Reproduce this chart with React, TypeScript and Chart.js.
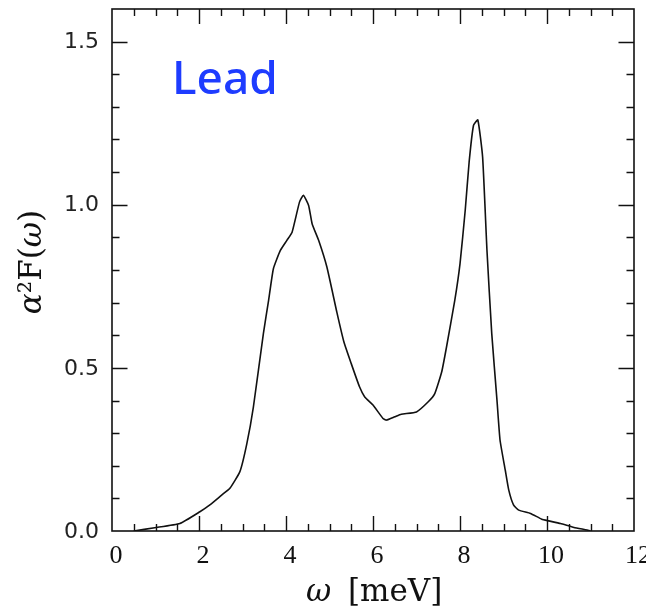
import React, { useEffect, useRef } from "react";
import { Chart, registerables } from "chart.js";

Chart.register(...registerables);

const omega = [0.5, 0.98, 1.56, 2.02, 2.25, 2.52, 2.71, 2.94, 3.1, 3.25, 3.48, 3.6, 3.71, 3.87, 4.02, 4.14, 4.31, 4.4, 4.52, 4.6, 4.75, 4.94, 5.17, 5.33, 5.5, 5.69, 5.81, 6.0, 6.23, 6.31, 6.5, 6.65, 7.0, 7.27, 7.42, 7.58, 7.69, 7.88, 8.0, 8.12, 8.21, 8.31, 8.41, 8.52, 8.62, 8.73, 8.85, 8.92, 9.04, 9.12, 9.23, 9.35, 9.62, 9.88, 10.04, 10.31, 10.62, 10.92, 11.0];
const a2F = [0, 0.01, 0.023, 0.059, 0.08, 0.11, 0.131, 0.182, 0.268, 0.38, 0.605, 0.707, 0.804, 0.86, 0.891, 0.916, 1.008, 1.029, 0.998, 0.942, 0.891, 0.809, 0.67, 0.58, 0.513, 0.442, 0.411, 0.386, 0.345, 0.34, 0.35, 0.358, 0.365, 0.396, 0.421, 0.488, 0.564, 0.707, 0.819, 0.983, 1.131, 1.243, 1.26, 1.146, 0.86, 0.605, 0.401, 0.279, 0.187, 0.126, 0.08, 0.064, 0.054, 0.036, 0.031, 0.023, 0.011, 0.003, 0];

const xMajorTicks = [0, 2, 4, 6, 8, 10, 12];
const xTickLabels = ["0", "2", "4", "6", "8", "10", "12"];
const yMajorTicks = [0, 0.5, 1.0, 1.5];
const yTickLabels = ["0.0", "0.5", "1.0", "1.5"];
const xRange = [0, 12];
const yRange = [0, 1.6];
const xMinorStep = 0.5;
const yMinorStep = 0.1;
const xTitleSymbol = "ω";
const xTitleUnit = "[meV]";
const yTitleParts = ["α", "²F(", "ω", ")"];
const annotationText = "Lead";

const framePlugin = {
  id: "framePlugin",
  afterDraw(chart: any) {
    const ctx = chart.ctx;
    const area = chart.chartArea;
    const xs = chart.scales.x;
    const ys = chart.scales.y;
    ctx.save();
    ctx.strokeStyle = "#111";
    ctx.lineWidth = 1.6;
    ctx.strokeRect(area.left, area.top, area.right - area.left, area.bottom - area.top);
    ctx.lineWidth = 1.4;
    const nx = Math.round((xRange[1] - xRange[0]) / xMinorStep);
    for (let i = 1; i < nx; i++) {
      const v = xRange[0] + i * xMinorStep;
      const major = Math.abs(v / 2 - Math.round(v / 2)) < 1e-6;
      const len = major ? 15 : 7;
      const px = Math.round(xs.getPixelForValue(v)) + 0.5;
      ctx.beginPath();
      ctx.moveTo(px, area.bottom);
      ctx.lineTo(px, area.bottom - len);
      ctx.moveTo(px, area.top);
      ctx.lineTo(px, area.top + len);
      ctx.stroke();
    }
    const ny = Math.round((yRange[1] - yRange[0]) / yMinorStep);
    for (let i = 1; i < ny; i++) {
      const v = yRange[0] + i * yMinorStep;
      const major = i % 5 === 0;
      const len = major ? 15.5 : 7.5;
      const py = Math.round(ys.getPixelForValue(v)) + 0.5;
      ctx.beginPath();
      ctx.moveTo(area.left, py);
      ctx.lineTo(area.left + len, py);
      ctx.moveTo(area.right, py);
      ctx.lineTo(area.right - len, py);
      ctx.stroke();
    }
    ctx.fillStyle = "#222";
    ctx.font = "22px 'DejaVu Sans'";
    ctx.textAlign = "right";
    ctx.textBaseline = "middle";
    yMajorTicks.forEach((v, i) => {
      ctx.fillText(yTickLabels[i], area.left - 13, ys.getPixelForValue(v) + 1);
    });
    ctx.fillStyle = "#111";
    ctx.font = "26px 'Liberation Serif'";
    ctx.textAlign = "center";
    ctx.textBaseline = "middle";
    xMajorTicks.forEach((v, i) => {
      ctx.fillText(xTickLabels[i], xs.getPixelForValue(v) + 4, area.bottom + 25);
    });
    // x title
    ctx.textBaseline = "alphabetic";
    ctx.textAlign = "left";
    ctx.font = "italic 31px 'DejaVu Serif'";
    ctx.fillText(xTitleSymbol, 306, area.bottom + 70);
    ctx.font = "31px 'DejaVu Serif'";
    ctx.fillText(xTitleUnit, 348, area.bottom + 70);
    // y title
    ctx.save();
    ctx.translate(41, 262);
    ctx.rotate(-Math.PI / 2);
    const fonts = ["italic 31px 'DejaVu Serif'", "31px 'DejaVu Serif'", "italic 31px 'DejaVu Serif'", "31px 'DejaVu Serif'"];
    let total = 0;
    const widths = yTitleParts.map((p, i) => {
      ctx.font = fonts[i];
      const w = ctx.measureText(p).width;
      total += w;
      return w;
    });
    let cx = -total / 2;
    yTitleParts.forEach((p, i) => {
      ctx.font = fonts[i];
      ctx.fillText(p, cx, 0);
      cx += widths[i];
    });
    ctx.restore();
    // annotation
    ctx.fillStyle = "rgb(30,60,255)";
    ctx.font = "500 46px 'Noto Sans'";
    ctx.textAlign = "left";
    ctx.fillText(annotationText, 172, 94);
    ctx.restore();
  },
};

export default function App() {
  const ref = useRef<HTMLCanvasElement | null>(null);
  useEffect(() => {
    document.body.style.margin = "0";
    const canvas = ref.current!;
    const chart = new Chart(canvas, {
      type: "scatter",
      data: {
        datasets: [
          {
            data: omega.map((x, i) => ({ x, y: a2F[i] })),
            showLine: true,
            borderColor: "#111",
            borderWidth: 1.6,
            pointRadius: 0,
            tension: 0.15,
            fill: false,
          },
        ],
      },
      options: {
        animation: false,
        responsive: false,
        maintainAspectRatio: false,
        layout: { padding: { left: 112, top: 9, right: 12, bottom: 79 } },
        plugins: { legend: { display: false }, tooltip: { enabled: false } },
        scales: {
          x: { type: "linear", min: xRange[0], max: xRange[1], display: false },
          y: { type: "linear", min: yRange[0], max: yRange[1], display: false },
        },
      },
      plugins: [framePlugin],
    });
    return () => chart.destroy();
  }, []);
  return (
    <div style={{ width: 646, height: 610, background: "#fff" }}>
      <canvas ref={ref} width={646} height={610} style={{ display: "block" }} />
    </div>
  );
}
